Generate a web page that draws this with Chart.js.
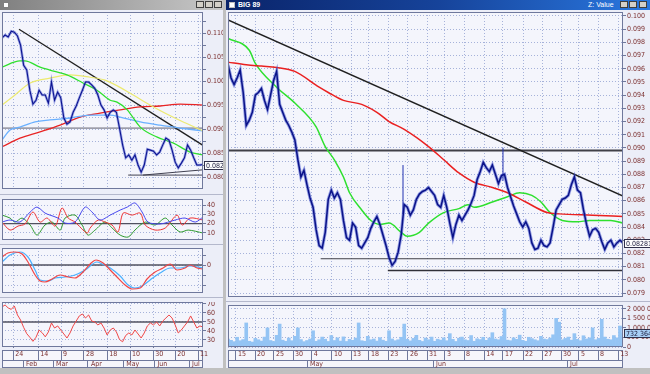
<!DOCTYPE html>
<html>
<head>
<meta charset="utf-8">
<script src="https://cdn.jsdelivr.net/npm/chart.js@4.4.1/dist/chart.umd.min.js"></script>
<style>
    body { margin: 0; width: 650px; height: 374px; overflow: hidden; background: #c0c0c0; position: relative; font-family: 'Liberation Sans', Arial, sans-serif; }
    .win { position: absolute; background: #eceef8; }
    .title { position: absolute; top: 0; height: 10px; }
    .title span.t { position: absolute; top: 1px; font-size: 7px; font-weight: bold; color: #fff; line-height: 8px; }
    .btn { position: absolute; top: 1px; width: 8px; height: 7px; background: #d4d0c8; border: 1px solid #404040; box-sizing: border-box; }
    .split { position: absolute; height: 1px; background: #b4b8cc; }
    canvas { position: absolute; background: #eceef8; }
</style>
</head>
<body>

<div class="win" style="left:0;top:0;width:223px;height:368px"></div>
<div class="win" style="left:226px;top:0;width:424px;height:368px"></div>

<div class="title" style="left:0;width:223px;background:linear-gradient(90deg,#808080,#c8c8c8)">
    <span class="btn" style="left:3px;top:2px;width:6px;height:6px;background:#fff;border-color:#808080"></span>
    <span class="btn" style="left:196px"></span><span class="btn" style="left:205px"></span><span class="btn" style="left:214px"></span>
</div>
<div class="title" style="left:226px;width:424px;background:linear-gradient(90deg,#0a246a,#16439a 50%,#2a78e0)">
    <span class="btn" style="left:3px;top:2px;width:6px;height:6px;background:#fff;border-color:#c0c0c0"></span>
    <span class="t" style="left:12px">BIG 89</span>
    <span class="t" style="left:362px;font-weight:normal">Z: Value</span>
    <span class="btn" style="left:394px"></span><span class="btn" style="left:403px"></span><span class="btn" style="left:413px"></span>
</div>

<div class="split" style="left:0;top:194px;width:223px"></div>
<div class="split" style="left:0;top:244px;width:223px"></div>
<div class="split" style="left:0;top:297px;width:223px"></div>
<div class="split" style="left:226px;top:301px;width:424px"></div>

<canvas id="leftPrice" width="221" height="177" style="left:2px;top:12px"></canvas>
<canvas id="leftOsc" width="221" height="41" style="left:2px;top:199px"></canvas>
<canvas id="leftMacd" width="221" height="45" style="left:2px;top:248px"></canvas>
<canvas id="leftRsi" width="221" height="66" style="left:2px;top:302px"></canvas>
<canvas id="rightPrice" width="422" height="285" style="left:228px;top:12px"></canvas>
<canvas id="rightVol" width="422" height="63" style="left:228px;top:305px"></canvas>

<script>
// ---- left window data (x = bar position 0..65) ----
const leftDayPos = [3.6, 11.7, 19.1, 26.5, 34.0, 41.4, 48.9, 56.0, 63.4];
const leftDayLabels = ['24', '14', '9', '28', '18', '10', '30', '20', '11'];
const leftMonthPos = [0, 6.8, 16.5, 27.8, 39.2, 49.3, 60.5];
const leftMonthLabels = ['', 'Feb', 'Mar', 'Apr', 'May', 'Jun', 'Jul'];

const leftPriceTicks = [0.080, 0.0825, 0.085, 0.0875, 0.090, 0.0925, 0.095, 0.0975, 0.100, 0.1025, 0.105, 0.1075, 0.110, 0.1125];
const leftClose = [
    0.1090, 0.1096, 0.1092, 0.1104, 0.1102, 0.1094, 0.1075, 0.1033, 0.1023, 0.0981,
    0.0952, 0.0960, 0.0981, 0.0971, 0.0971, 0.0954, 0.0998, 0.0960, 0.0977, 0.0965,
    0.0923, 0.0910, 0.0915, 0.0935, 0.0948, 0.0965, 0.0981, 0.0998, 0.0998, 0.0992,
    0.0985, 0.0971, 0.0950, 0.0940, 0.0923, 0.0935, 0.0940, 0.0935, 0.0902, 0.0867,
    0.0840, 0.0846, 0.0835, 0.0846, 0.0825, 0.0810, 0.0825, 0.0858, 0.0856, 0.0854,
    0.0846, 0.0852, 0.0867, 0.0881, 0.0877, 0.0856, 0.0831, 0.0819, 0.0829, 0.0840,
    0.0867, 0.0856, 0.0840, 0.0825, 0.0825, 0.0826
];
const leftMaGreen = [[0, 0.1029], [5.8, 0.1042], [7.4, 0.1042], [12.3, 0.1029], [15.5, 0.1023], [21, 0.1013], [26.2, 0.0996], [30.7, 0.0981], [35, 0.0960], [37.2, 0.0956], [40.5, 0.0940], [44.7, 0.0904], [50.2, 0.0883], [55.3, 0.0871], [60.8, 0.0852], [65, 0.0846]];
const leftMaYellow = [[0, 0.0950], [4.2, 0.0971], [9.1, 0.0996], [15.5, 0.1006], [22, 0.1013], [28.5, 0.1008], [33.3, 0.1002], [39.8, 0.0981], [46.3, 0.0956], [52.8, 0.0933], [59.2, 0.0913], [65, 0.0896]];
const leftMaBlue = [[0, 0.0877], [2.6, 0.0898], [5.8, 0.0904], [10.7, 0.0915], [15.5, 0.0919], [22, 0.0923], [28.5, 0.0929], [35, 0.0929], [38.2, 0.0925], [44.7, 0.0915], [51.1, 0.0908], [57.6, 0.0902], [65, 0.0896]];
const leftMaRed = [[0, 0.0863], [5.8, 0.0881], [12.3, 0.0894], [18.8, 0.0908], [25.2, 0.0925], [31.7, 0.0933], [38.2, 0.0940], [44.7, 0.0946], [51.1, 0.0948], [57.6, 0.0952], [65, 0.0950]];
const leftTrend = [[5.5, 0.1108], [65, 0.0866]];
const leftLevel = 0.0902;
const leftSupport1 = [[40.8, 0.0804], [65, 0.0804]];
const leftSupport2 = [[45.6, 0.0804], [65, 0.0815]];

const leftOscTicks = [10, 20, 30, 40];
const leftOscLevel = 20;
const leftOscBlue = [[0, 21.7], [2.6, 23.9], [5.8, 21.7], [9.1, 32.5], [11.3, 37.8], [13.9, 31.4], [15.5, 29.2], [18.1, 26.0], [20.4, 20.6], [23.6, 21.7], [26.9, 37.8], [29.1, 32.5], [31.7, 23.9], [35, 29.2], [38.2, 34.6], [40.5, 37.8], [43, 42.2], [45.3, 32.5], [47.2, 21.7], [51.1, 19.6], [56, 23.9], [59.2, 26.0], [62.5, 21.7], [65, 27.1]];
const leftOscRed = [[0, 21.7], [2.6, 13.1], [5.2, 17.4], [7.4, 19.6], [10, 32.5], [12.3, 21.7], [14.6, 26.0], [17.2, 17.4], [19.4, 36.8], [21.4, 26.0], [23.6, 21.7], [27.5, 9.9], [28.5, 15.3], [31.1, 23.9], [33.3, 21.7], [35.6, 18.5], [37.5, 11.0], [39.2, 31.4], [42.1, 29.2], [44.7, 31.4], [46.3, 18.5], [49.5, 13.1], [52.8, 15.3], [56.6, 29.2], [58.3, 18.5], [60.8, 26.0], [65, 23.9]];
const leftOscGreen = [[0, 29.2], [2.6, 26.0], [4.2, 21.7], [6.5, 26.0], [9.1, 18.5], [11.3, 7.7], [13.9, 18.5], [16.2, 21.7], [18.8, 13.1], [20.4, 26.0], [23.6, 29.2], [25.9, 18.5], [27.8, 7.7], [30.1, 13.1], [33.3, 21.7], [35.6, 15.3], [38.2, 7.7], [40.8, 5.6], [43, 13.1], [46.3, 21.7], [49.5, 18.5], [52.8, 26.0], [55, 18.5], [57.6, 11.0], [60.2, 13.1], [65, 9.9]];

const leftMacdTicks = [-2, -1, 0, 1];
const leftMacdRed = [[0, 0.8], [1.9, 1.2], [4.2, 1.3], [6.5, 1.1], [8.4, 0.3], [10.7, -1.0], [12.3, -1.6], [13.9, -1.7], [16.2, -1.4], [18.8, -1.0], [21.4, -1.2], [23.6, -1.3], [26.2, -0.7], [28.5, 0.1], [30.4, 0.5], [32.7, 0.2], [35, -0.5], [37.5, -1.3], [39.8, -2.0], [42.1, -2.4], [44.7, -2.3], [46.9, -1.4], [49.5, -0.7], [52.1, -0.3], [54.4, 0.1], [56.6, -0.5], [59.2, -0.3], [60.8, 0.0], [63.1, -0.3], [65, -0.4]];
const leftMacdBlue = [[0, 0.3], [2.6, 1.0], [5.8, 1.3], [8.4, 0.8], [10.7, -0.5], [12.3, -1.5], [14.9, -1.6], [17.2, -1.3], [20.4, -1.2], [23.6, -1.0], [26.9, -0.5], [30.7, 0.3], [32.4, 0.1], [35, -0.3], [38.2, -1.1], [40.8, -2.0], [43, -2.3], [45.3, -2.1], [47.9, -1.5], [51.1, -0.8], [54.4, -0.3], [57.6, -0.3], [60.8, -0.1], [65, -0.3]];

const leftRsiTicks = [30, 40, 50, 60, 70];
const leftRsiLevel = 50;
const leftRsi = [
    66.7, 68.9, 65.6, 64.0, 67.8, 57.8, 52.2, 44.0, 37.0, 33.0,
    28.5, 33.0, 41.0, 38.0, 33.5, 38.9, 48.9, 43.3, 45.6, 41.1,
    36.7, 32.2, 37.8, 45.6, 51.1, 56.7, 58.9, 54.4, 57.8, 51.1,
    50.0, 46.7, 48.9, 43.3, 35.6, 41.1, 43.3, 38.9, 30.5, 28.0,
    35.0, 37.8, 35.6, 41.1, 36.7, 32.2, 37.8, 45.6, 48.9, 46.7,
    50.0, 45.6, 51.1, 54.4, 57.8, 54.4, 46.7, 37.8, 41.1, 45.6,
    50.0, 56.7, 50.0, 43.3, 45.6, 44.4
];

// ---- right window data (x = bar position 0..130) ----
const rightDayPos = [2.6, 8.9, 15.1, 21.4, 27.6, 34.2, 40.5, 46.4, 52.7, 59.2, 65.5, 71.4, 77.7, 84.3, 90.5, 97.1, 103.4, 109.6, 115.5, 121.8, 128.4];
const rightDayLabels = ['15', '20', '25', '30', '4', '10', '13', '18', '23', '26', '31', '3', '8', '14', '17', '22', '27', '30', '5', '8', '13'];
const rightMonthPos = [0, 26.0, 67.5, 111.6];
const rightMonthLabels = ['', 'May', 'Jun', 'Jul'];

const rightPriceTicks = [0.079, 0.080, 0.081, 0.082, 0.083, 0.084, 0.085, 0.086, 0.087, 0.088, 0.089, 0.090, 0.091, 0.092, 0.093, 0.094, 0.095, 0.096, 0.097, 0.098, 0.099, 0.100];
const rightClose = [
    0.0963, 0.0953, 0.0948, 0.0953, 0.0959, 0.0942, 0.0917, 0.0921, 0.0927, 0.0940,
    0.0942, 0.0945, 0.0936, 0.0929, 0.0940, 0.0951, 0.0958, 0.0933, 0.0927, 0.0921,
    0.0917, 0.0912, 0.0906, 0.0891, 0.0878, 0.0883, 0.0872, 0.0862, 0.0855, 0.0838,
    0.0826, 0.0824, 0.0836, 0.0861, 0.0868, 0.0862, 0.0866, 0.0861, 0.0845, 0.0832,
    0.0830, 0.0843, 0.0840, 0.0826, 0.0824, 0.0828, 0.0832, 0.0839, 0.0844, 0.0848,
    0.0842, 0.0834, 0.0826, 0.0817, 0.0811, 0.0814, 0.0821, 0.0834, 0.0857, 0.0855,
    0.0849, 0.0853, 0.0861, 0.0865, 0.0867, 0.0868, 0.0870, 0.0867, 0.0864, 0.0857,
    0.0855, 0.0864, 0.0855, 0.0843, 0.0832, 0.0842, 0.0849, 0.0845, 0.0849, 0.0853,
    0.0858, 0.0864, 0.0876, 0.0882, 0.0889, 0.0885, 0.0882, 0.0887, 0.0880, 0.0873,
    0.0879, 0.0880, 0.0870, 0.0863, 0.0856, 0.0850, 0.0844, 0.0840, 0.0844, 0.0839,
    0.0828, 0.0823, 0.0824, 0.0830, 0.0826, 0.0825, 0.0828, 0.0840, 0.0853, 0.0857,
    0.0861, 0.0862, 0.0864, 0.0872, 0.0878, 0.0868, 0.0866, 0.0853, 0.0842, 0.0833,
    0.0838, 0.0839, 0.0836, 0.0829, 0.0823, 0.0828, 0.0830, 0.0825, 0.0828, 0.0830,
    0.0828
];
const rightSpikes = [[57.6, 0.0850, 0.0887], [90.5, 0.0875, 0.0900]];
const rightMaRed = [[0, 0.0965], [6, 0.0963], [11, 0.0962], [16, 0.0961], [22, 0.0958], [30, 0.0946], [33, 0.0942], [38, 0.0936], [44, 0.0933], [49, 0.0927], [53, 0.0920], [58, 0.0914], [66, 0.0901], [71, 0.0891], [76, 0.0881], [81, 0.0874], [87, 0.0870], [92, 0.0866], [98, 0.0859], [105, 0.0851], [109, 0.0850], [120, 0.0849], [130, 0.0848]];
const rightMaGreen = [[0, 0.0983], [7, 0.0974], [9, 0.0964], [16, 0.0946], [22, 0.0934], [29, 0.0916], [32, 0.0901], [35, 0.0891], [38, 0.0878], [40, 0.0866], [44, 0.0853], [47, 0.0845], [50, 0.0842], [53, 0.0843], [57, 0.0836], [59, 0.0833], [63, 0.0836], [66, 0.0843], [71, 0.0851], [76, 0.0854], [79, 0.0857], [81, 0.0855], [87, 0.0859], [92, 0.0863], [96, 0.0866], [100, 0.0864], [103, 0.0859], [106, 0.0851], [110, 0.0845], [115, 0.0844], [119, 0.0845], [126, 0.0845], [130, 0.0843]];
const rightTrend = [[0, 0.0997], [130, 0.08635]];
const rightLevel = 0.0898;
const rightSupport1 = [[30.5, 0.0816], [130, 0.0816]];
const rightSupport2 = [[52.6, 0.0807], [130, 0.0807]];

const volTicks = [0, 500, 1000, 1500, 2000]; // thousands
const volume = [
    420, 350, 280, 510, 330, 390, 1260, 300, 260, 450,
    380, 310, 520, 1000, 340, 290, 610, 1200, 360, 300,
    470, 330, 560, 1000, 390, 280, 340, 420, 850, 300,
    380, 520, 410, 290, 600, 340, 480, 310, 530, 290,
    400, 350, 470, 1260, 330, 300, 560, 380, 420, 310,
    490, 360, 300, 850, 420, 330, 380, 510, 1200, 400,
    320, 450, 610, 350, 290, 470, 380, 520, 300, 410,
    360, 480, 330, 700, 400, 290, 460, 520, 380, 340,
    600, 300, 430, 390, 510, 350, 470, 750, 420, 380,
    550, 2000, 360, 330, 480, 400, 620, 350, 300, 510,
    440, 380, 330, 560, 420, 390, 470, 640, 1500, 1300,
    380, 450, 520, 360, 700, 400, 330, 590, 420, 480,
    1000, 380, 450, 1450, 520, 410, 380, 600, 480, 1100,
    732
];

// ---- styles ----
const GRID = '#a6b2da';
const FRAME = '#6f789c';
const TXT = '#7b2f2f';
const PLOT_BG = '#f4f5fc';
const WIN_BG = '#eceef8';
const FONT = { family: "'Liberation Sans Narrow','DejaVu Sans Condensed','Liberation Sans',sans-serif", size: 7 };

const xy = a => a.map(p => ({ x: p[0], y: p[1] }));
const seq = a => a.map((y, i) => ({ x: i, y: y }));
const flat = (v, x0, x1) => [{ x: x0, y: v }, { x: x1, y: v }];
const line = (data, color, width, extra) => Object.assign({ data: data, borderColor: color, borderWidth: width, pointRadius: 0, fill: false }, extra || {});
const smooth = { cubicInterpolationMode: 'monotone' };
const noPad = s => { s.paddingTop = 0; s.paddingBottom = 0; s.paddingLeft = 0; s.paddingRight = 0; };
const spaced = v => String(Math.round(v * 1000)).replace(/\B(?=(\d{3})+(?!\d))/g, ' ');

// plot background + border
const frame = {
    id: 'frame',
    beforeDraw(c) {
        const a = c.chartArea, g = c.ctx;
        g.save();
        g.fillStyle = PLOT_BG;
        g.fillRect(a.left, a.top, a.width, a.height);
        g.restore();
    },
    afterDraw(c) {
        const a = c.chartArea, g = c.ctx;
        g.save();
        g.strokeStyle = FRAME;
        g.lineWidth = 1;
        g.strokeRect(a.left + 0.5, a.top + 0.5, a.width - 1, a.height - 1);
        g.restore();
    }
};

// the two date rows under the bottom panel
const dateRows = {
    id: 'dateRows',
    beforeDraw(c) {
        const x = c.scales.x, x2 = c.scales.x2, g = c.ctx;
        g.save();
        g.fillStyle = '#f6f6fb';
        g.fillRect(x.left, x.top + 3, x.width, x.bottom - x.top - 3);
        g.fillRect(x2.left, x2.top, x2.width, x2.height);
        g.strokeStyle = FRAME;
        g.strokeRect(x.left + 0.5, x.top + 3.5, x.width - 1, x.bottom - x.top - 3);
        g.strokeRect(x2.left + 0.5, x2.top + 0.5, x2.width - 1, x2.height - 1);
        g.restore();
    },
    afterDraw(c) {
        const x = c.scales.x, g = c.ctx;
        g.save();
        g.fillStyle = WIN_BG;
        g.fillRect(x.left, c.chartArea.bottom + 1, x.width, 2);
        g.restore();
    }
};

// last value box on the y axis
const lastBox = {
    id: 'lastBox',
    afterDraw(c, args, o) {
        if (!o || o.value === undefined) return;
        const a = c.chartArea, g = c.ctx;
        const y = Math.round(c.scales.y.getPixelForValue(o.value));
        g.save();
        g.fillStyle = o.bg;
        g.fillRect(a.right + 1, y - 4, c.width - a.right, 9);
        g.strokeStyle = '#30304a';
        g.strokeRect(a.right + 1.5, y - 3.5, c.width - a.right, 8);
        g.fillStyle = '#202040';
        g.font = FONT.size + 'px ' + FONT.family;
        g.textBaseline = 'middle';
        g.fillText(o.text, a.right + 3, y + 1);
        g.restore();
    }
};

function hiddenX(max, pos) {
    return {
        type: 'linear', min: 0, max: max, offset: false,
        afterBuildTicks: s => { s.ticks = pos.map(v => ({ value: v })); },
        afterFit: s => { s.height = 0; noPad(s); },
        ticks: { display: false },
        grid: { color: GRID, drawTicks: false, offset: false },
        border: { display: false, dash: [1, 2] }
    };
}

function dayX(max, pos, labels) {
    return {
        type: 'linear', min: 0, max: max, offset: false, weight: 0,
        afterBuildTicks: s => { s.ticks = pos.map(v => ({ value: v })); },
        afterFit: s => { s.height = 13; noPad(s); },
        ticks: { align: 'start', labelOffset: 2, padding: -10, maxRotation: 0, autoSkip: false, color: TXT, font: FONT, callback: (v, i) => labels[i] },
        grid: { color: GRID, tickColor: FRAME, tickLength: 13, offset: false },
        border: { display: false, dash: [1, 2] }
    };
}

function monthX(max, pos, labels) {
    return {
        type: 'linear', min: 0, max: max, position: 'bottom', offset: false, weight: 1,
        afterBuildTicks: s => { s.ticks = pos.map(v => ({ value: v })); },
        afterFit: s => { s.height = 8; noPad(s); },
        ticks: { align: 'start', labelOffset: 3, padding: -8, maxRotation: 0, autoSkip: false, color: TXT, font: FONT, callback: (v, i) => labels[i] },
        grid: { drawOnChartArea: false, tickColor: FRAME, tickLength: 8, offset: false },
        border: { display: false }
    };
}

function sideY(min, max, ticks, fmt, width) {
    return {
        position: 'right', min: min, max: max,
        afterBuildTicks: s => { s.ticks = ticks.map(v => ({ value: v })); },
        afterFit: s => { s.width = width; noPad(s); },
        ticks: { color: TXT, font: FONT, padding: 1, autoSkip: false, callback: fmt },
        grid: { color: GRID, tickColor: FRAME, tickLength: 3 },
        border: { display: false, dash: [1, 2] }
    };
}

function panel(id, type, datasets, scales, plugins, pluginOpts) {
    return new Chart(document.getElementById(id), {
        type: type,
        data: { datasets: datasets },
        plugins: plugins,
        options: {
            responsive: false, animation: false, events: [],
            layout: { padding: 0 },
            elements: { point: { radius: 0 }, line: { tension: 0 } },
            plugins: Object.assign({ legend: { display: false }, tooltip: { enabled: false } }, pluginOpts || {}),
            scales: scales
        }
    });
}

// ---- left window ----
panel('leftPrice', 'line', [
    line(seq(leftClose), '#0c1490', 1.1, { order: 1 }),
    line(seq(leftClose), 'rgba(70,86,210,0.5)', 2.6, { order: 2 }),
    line(xy(leftMaGreen), '#2ee02e', 1.3, Object.assign({ order: 3 }, smooth)),
    line(xy(leftMaYellow), '#ecea70', 1.2, Object.assign({ order: 3 }, smooth)),
    line(xy(leftMaBlue), '#6ab0ff', 1.3, Object.assign({ order: 3 }, smooth)),
    line(xy(leftMaRed), '#e82424', 1.3, Object.assign({ order: 3 }, smooth)),
    line(xy(leftTrend), '#202020', 1.3, { order: 4 }),
    line(flat(leftLevel, 0, 65), '#606070', 1, { order: 5 }),
    line(xy(leftSupport1), '#404050', 1, { order: 4 }),
    line(xy(leftSupport2), '#404050', 1, { order: 4 })
], {
    x: hiddenX(65, leftDayPos),
    y: sideY(0.0775, 0.1144, leftPriceTicks, (v, i) => (i % 2 === 0 ? v.toFixed(3) : ''), 20)
}, [frame, lastBox], { lastBox: { value: leftClose[leftClose.length - 1], text: '0.08261', bg: '#ffffff' } });

panel('leftOsc', 'line', [
    line(flat(leftOscLevel, 0, 65), '#505060', 1.3, { order: 5 }),
    line(xy(leftOscBlue), '#4848f0', 1, { tension: 0.3 }),
    line(xy(leftOscRed), '#f03434', 1, { tension: 0.3 }),
    line(xy(leftOscGreen), '#2f9a2f', 1, { tension: 0.3 })
], {
    x: hiddenX(65, leftDayPos),
    y: sideY(2.4, 46.5, leftOscTicks, v => String(v), 20)
}, [frame]);

panel('leftMacd', 'line', [
    line(flat(0, 0, 65), '#505060', 1.3, { order: 5 }),
    line(xy(leftMacdBlue), '#4ab0ff', 1.2, Object.assign({ order: 2 }, smooth)),
    line(xy(leftMacdRed), '#f04848', 1.2, Object.assign({ order: 1 }, smooth))
], {
    x: hiddenX(65, leftDayPos),
    y: sideY(-2.8, 1.7, leftMacdTicks, v => (v === 0 ? '0' : ''), 20)
}, [frame]);

panel('leftRsi', 'line', [
    line(flat(leftRsiLevel, 0, 65), '#505060', 1.3, { order: 5 }),
    line(seq(leftRsi), '#f04848', 1, { order: 1 })
], {
    x: dayX(65, leftDayPos, leftDayLabels),
    x2: monthX(65, leftMonthPos, leftMonthLabels),
    y: sideY(22.2, 72.2, leftRsiTicks, v => String(v), 20)
}, [dateRows, frame]);

// ---- right window ----
const spikeSets = rightSpikes.map(s => line([{ x: s[0], y: s[1] }, { x: s[0], y: s[2] }], '#2030b0', 1, { order: 1 }));

panel('rightPrice', 'line', [
    line(seq(rightClose), '#0a1288', 1.5, { order: 1 }),
    line(seq(rightClose), 'rgba(64,80,205,0.55)', 3.2, { order: 2 }),
    line(xy(rightMaRed), '#ea2020', 1.5, Object.assign({ order: 3 }, smooth)),
    line(xy(rightMaGreen), '#2ee02e', 1.5, Object.assign({ order: 3 }, smooth)),
    line(xy(rightTrend), '#202020', 1.5, { order: 4 }),
    line(flat(rightLevel, 0, 130), '#404048', 2, { order: 5 }),
    line(xy(rightSupport1), '#404048', 1, { order: 4 }),
    line(xy(rightSupport2), '#303038', 1.5, { order: 4 })
].concat(spikeSets), {
    x: hiddenX(130, rightDayPos),
    y: sideY(0.0787, 0.1003, rightPriceTicks, v => v.toFixed(3), 27)
}, [frame, lastBox], { lastBox: { value: rightClose[rightClose.length - 1], text: '0.08281', bg: '#ffffff' } });

panel('rightVol', 'bar', [
    { data: seq(volume), backgroundColor: '#94c4f4', barThickness: 3, grouped: false }
], {
    x: dayX(130, rightDayPos, rightDayLabels),
    x2: monthX(130, rightMonthPos, rightMonthLabels),
    y: sideY(0, 2200, volTicks, v => (v === 0 ? '0' : spaced(v)), 27)
}, [dateRows, frame, lastBox], { lastBox: { value: volume[volume.length - 1], text: '732 364', bg: '#a8cff6' } });
</script>
</body>
</html>
